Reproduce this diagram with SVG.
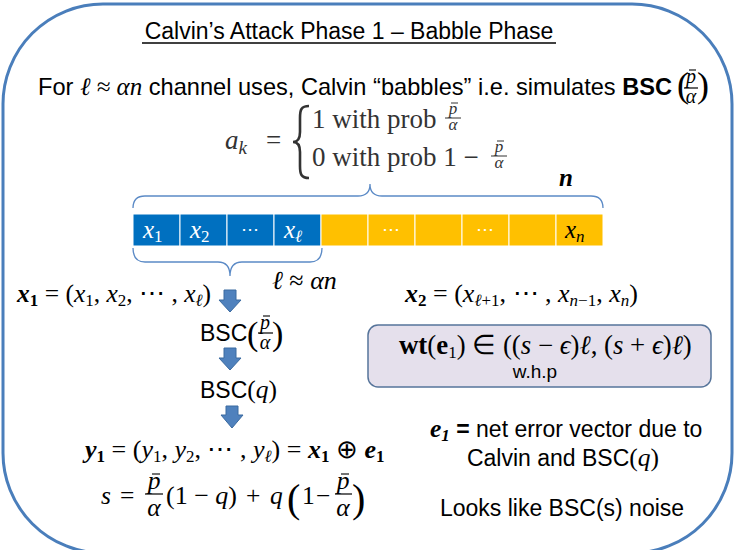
<svg xmlns="http://www.w3.org/2000/svg" width="735" height="550" viewBox="0 0 735 550">
<defs>
<style>
text{font-family:"Liberation Sans",Arial,sans-serif;font-size:23px;fill:#000}
.m{font-family:"Liberation Serif","Times New Roman",serif;font-style:italic}
.r{font-style:normal}
.b{font-weight:bold}
.cm{font-family:"Liberation Serif","Times New Roman",serif;fill:#333;font-size:27px}
.mt{font-size:25.5px}
.sub{font-size:17px}
.fr{font-size:20px}
.par{font-family:"Liberation Serif","Times New Roman",serif;font-size:36px}
.w{fill:#fff}
.arrow{fill:#4f81bd;stroke:#3a6aa0;stroke-width:1}
.brace{fill:none;stroke:#5b8ac6;stroke-width:1.3}
.cb{fill:#0070c0;stroke:#fff;stroke-width:1}
.cy{fill:#ffc000;stroke:#fff;stroke-width:1}
.bar{stroke:#000;stroke-width:1.2}
.mac{stroke:#000;stroke-width:1.1}
.bar2{stroke:#333;stroke-width:1}
.mac2{stroke:#333;stroke-width:1}
</style>
</defs>
<rect x="3" y="4" width="729" height="549" rx="100" fill="#fff" stroke="#4a7ebb" stroke-width="3"/>

<g id="title">
<text x="349" y="39" text-anchor="middle">Calvin’s Attack Phase 1 – Babble Phase</text>
<line x1="142" y1="43" x2="556" y2="43" stroke="#000" stroke-width="1.3"/>
</g>

<g id="intro">
<text x="38" y="95" style="font-size:23.6px">For <tspan class="m" style="font-size:25px">ℓ ≈ αn</tspan> channel uses, Calvin “babbles” i.e. simulates <tspan class="b">BSC</tspan></text>
<text class="par" x="677" y="97" style="font-size:36px">(</text>
<text class="m fr" x="691" y="83" text-anchor="middle">p</text>
<line class="mac" x1="689" y1="70" x2="696" y2="70"/>
<line class="bar" x1="684" y1="88" x2="698" y2="88"/>
<text class="m fr" x="691" y="103" text-anchor="middle">α</text>
<text class="par" x="697" y="97" style="font-size:36px">)</text>
</g>

<g id="ak-formula">
<text class="cm" x="225" y="149"><tspan class="m">a</tspan><tspan class="m" style="font-size:19px" dy="5">k</tspan></text>
<text class="cm" x="266" y="149">=</text>
<path d="M309,106 C301,106 300,110 300,118 L300,132 C300,138 298,142 293,142 C298,142 300,146 300,152 L300,166 C300,174 301,178 309,178" fill="none" stroke="#333" stroke-width="2.6"/>
<text class="cm" x="312" y="128">1 with prob</text>
<text class="cm m" x="453" y="114" style="font-size:17px" text-anchor="middle">p</text>
<line class="mac2" x1="451" y1="103" x2="458" y2="103"/>
<line class="bar2" x1="445" y1="118" x2="461" y2="118"/>
<text class="cm m" x="453" y="130" style="font-size:17px" text-anchor="middle">α</text>
<text class="cm" x="312" y="166">0 with prob 1 −</text>
<text class="cm m" x="499" y="152" style="font-size:17px" text-anchor="middle">p</text>
<line class="mac2" x1="497" y1="141" x2="504" y2="141"/>
<line class="bar2" x1="491" y1="156" x2="507" y2="156"/>
<text class="cm m" x="499" y="168" style="font-size:17px" text-anchor="middle">α</text>
</g>

<g id="codeword">
<rect class="cb" x="133" y="214" width="47" height="32"/>
<rect class="cb" x="180" y="214" width="47" height="32"/>
<rect class="cb" x="227" y="214" width="47" height="32"/>
<rect class="cb" x="274" y="214" width="47" height="32"/>
<rect class="cy" x="321" y="214" width="47" height="32"/>
<rect class="cy" x="368" y="214" width="47" height="32"/>
<rect class="cy" x="415" y="214" width="47" height="32"/>
<rect class="cy" x="462" y="214" width="47" height="32"/>
<rect class="cy" x="509" y="214" width="47" height="32"/>
<rect class="cy" x="556" y="214" width="47" height="32"/>
<text class="m w" x="143" y="238" style="font-size:25px">x<tspan class="sub r" dy="4">1</tspan></text>
<text class="m w" x="190" y="238" style="font-size:25px">x<tspan class="sub r" dy="4">2</tspan></text>
<text class="m w r" x="250" y="235" text-anchor="middle" style="font-size:18px">⋯</text>
<text class="m w" x="284" y="238" style="font-size:25px">x<tspan class="sub" dy="4">ℓ</tspan></text>
<text class="w" x="391" y="235" text-anchor="middle" style="font-size:18px">⋯</text>
<text class="w" x="485" y="235" text-anchor="middle" style="font-size:18px">⋯</text>
<text class="m" x="565" y="238" style="font-size:25px">x<tspan class="sub" dy="4">n</tspan></text>
<text class="m" x="559" y="186" style="font-size:25px;font-weight:bold">n</text>
<text class="m" x="272" y="289" style="font-size:26px">ℓ <tspan class="r"> ≈ </tspan> αn</text>
</g>

<g id="x1-def">
<text class="m mt" x="17" y="302"><tspan class="b">x</tspan><tspan class="sub b r" dy="4">1</tspan><tspan class="r" dy="-4"> = (</tspan>x<tspan class="sub r" dy="4">1</tspan><tspan class="r" dy="-4">, </tspan>x<tspan class="sub r" dy="4">2</tspan><tspan class="r" dy="-4">, ⋯ , </tspan>x<tspan class="sub" dy="4">ℓ</tspan><tspan class="r" dy="-4">)</tspan></text>
</g>

<g id="x2-def">
<text class="m" x="405" y="302" style="font-size:26px"><tspan class="b">x</tspan><tspan class="sub b r" dy="4">2</tspan><tspan class="r" dy="-4"> = (</tspan>x<tspan class="sub" dy="4">ℓ<tspan class="r">+1</tspan></tspan><tspan class="r" dy="-4">, ⋯ , </tspan>x<tspan class="sub" dy="4">n<tspan class="r">−1</tspan></tspan><tspan class="r" dy="-4">, </tspan>x<tspan class="sub" dy="4">n</tspan><tspan class="r" dy="-4">)</tspan></text>
</g>

<g id="bsc-pa">
<text x="200" y="341">BSC</text>
<text class="par" x="247" y="345" style="font-size:34px">(</text>
<text class="m fr" x="265" y="329" text-anchor="middle">p</text>
<line class="mac" x1="263" y1="316" x2="270" y2="316"/>
<line class="bar" x1="258" y1="333" x2="273" y2="333"/>
<text class="m fr" x="265" y="349" text-anchor="middle">α</text>
<text class="par" x="272" y="345" style="font-size:34px">)</text>
</g>

<g id="bsc-q">
<text x="200" y="398">BSC<tspan class="m r mt">(</tspan><tspan class="m mt">q</tspan><tspan class="m r mt">)</tspan></text>
</g>

<g id="y1-def">
<text class="m" x="85" y="458" style="font-size:26px"><tspan class="b">y</tspan><tspan class="sub b r" dy="4">1</tspan><tspan class="r" dy="-4"> = (</tspan>y<tspan class="sub r" dy="4">1</tspan><tspan class="r" dy="-4">, </tspan>y<tspan class="sub r" dy="4">2</tspan><tspan class="r" dy="-4">, ⋯ , </tspan>y<tspan class="sub" dy="4">ℓ</tspan><tspan class="r" dy="-4">) = </tspan><tspan class="b">x</tspan><tspan class="sub b r" dy="4">1</tspan><tspan class="r" dy="-4"> ⊕ </tspan><tspan class="b">e</tspan><tspan class="sub b r" dy="4">1</tspan></text>
</g>

<g id="s-def">
<text class="m mt" x="101" y="504">s</text>
<text class="m r mt" x="120" y="504">=</text>
<text class="m mt" x="154" y="489" text-anchor="middle">p</text>
<line class="mac" x1="152" y1="474" x2="160" y2="474"/>
<line class="bar" x1="145" y1="494" x2="163" y2="494"/>
<text class="m mt" x="154" y="516" text-anchor="middle">α</text>
<text class="m mt" x="166" y="504" style="font-size:26px"><tspan class="r">(1 − </tspan>q<tspan class="r">)</tspan></text>
<text class="m r mt" x="246" y="504">+</text>
<text class="m mt" x="270" y="504">q</text>
<text class="par" x="287" y="512" style="font-size:40px">(</text>
<text class="m r mt" x="302" y="504">1</text>
<text class="m r mt" x="316" y="504">−</text>
<text class="m mt" x="343" y="489" text-anchor="middle">p</text>
<line class="mac" x1="341" y1="474" x2="349" y2="474"/>
<line class="bar" x1="335" y1="494" x2="352" y2="494"/>
<text class="m mt" x="343" y="516" text-anchor="middle">α</text>
<text class="par" x="352" y="512" style="font-size:40px">)</text>
</g>

<g id="wt-box">
<rect x="368" y="325" width="343" height="62" rx="10" fill="#e5e0ec" stroke="#56749a" stroke-width="1.5"/>
<text class="cm" x="399" y="354" style="fill:#000;font-size:26.8px"><tspan class="b">wt</tspan>(<tspan class="b">e</tspan><tspan class="sub" dy="4">1</tspan><tspan dy="-4">) ∈ ((</tspan><tspan class="m">s</tspan> − <tspan class="m">ϵ</tspan>)<tspan class="m">ℓ</tspan>, (<tspan class="m">s</tspan> + <tspan class="m">ϵ</tspan>)<tspan class="m">ℓ</tspan>)</text>
<text x="535" y="378" text-anchor="middle" style="font-size:19px">w.h.p</text>
</g>

<g id="e1-note">
<text x="430" y="437"><tspan class="m b mt">e</tspan><tspan class="m b sub" dy="4">1</tspan><tspan class="b" dy="-4"> =</tspan> net error vector due to</text>
<text x="563" y="466" text-anchor="middle">Calvin and BSC<tspan class="m r mt">(</tspan><tspan class="m mt">q</tspan><tspan class="m r mt">)</tspan></text>
</g>

<g id="noise-note">
<text x="562" y="516" text-anchor="middle">Looks like BSC(s) noise</text>
</g>

<g id="connectors">
<path class="brace" d="M133,208 Q133,196 145,196 L358,196 Q370,196 370,184 Q370,196 382,196 L591,196 Q603,196 603,208"/>
<path class="brace" d="M133,248 Q133,262 145,262 L218,262 Q230,262 230,276 Q230,262 242,262 L310,262 Q322,262 322,248"/>
<path class="arrow" d="M224,290 H236 V300 H241 L230,312 L219,300 H224 Z"/>
<path class="arrow" d="M224,348 H236 V358 H241 L230,370 L219,358 H224 Z"/>
<path class="arrow" d="M226,406 H238 V415 H243 L232,428 L221,415 H226 Z"/>
</g>
</svg>
